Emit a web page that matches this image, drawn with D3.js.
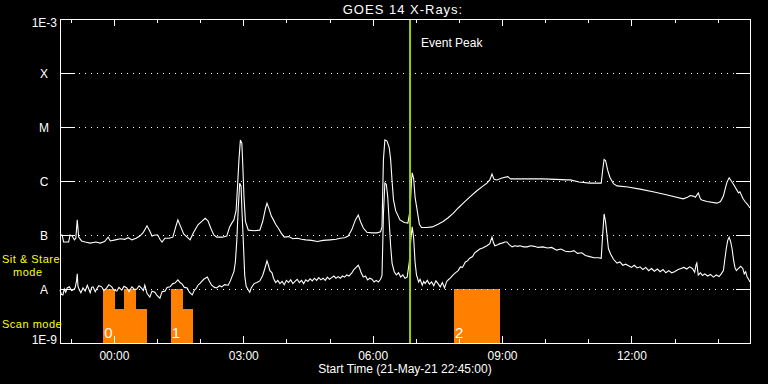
<!DOCTYPE html>
<html><head><meta charset="utf-8">
<script src="https://cdn.jsdelivr.net/npm/d3@7"></script>
<style>
body{margin:0;background:#000;}
svg{display:block;background:#000;}
text{font-family:"Liberation Sans",Arial,sans-serif;fill:#fff;}
</style>
</head><body>
<svg id="chart" width="768" height="384"></svg>
<script>
// ---------------- data ----------------
const chartTitle = "GOES 14 X-Rays:";
const startTimeISO = "2021-05-21T22:45:00Z";
const spanMinutes = 960;
const xAxisTitle = "Start Time (21-May-21 22:45:00)";
const eventPeakMinute = 487;
const eventPeakLabel = "Event Peak";

// flux classes: log10(W/m^2) and their labels
const classExponents = [-9, -8, -7, -6, -5, -4, -3];
const classLabels = ["1E-9", "A", "B", "C", "M", "X", "1E-3"];

// long channel (1-8 A): [minutes since start, log10 flux]
const longChannel = [[0,-7.0],[3,-7.0],[5,-7.13],[12,-7.13],[14,-7.0],[17,-7.02],[20,-7.09],[22,-7.06],[24,-6.72],[26,-7.04],[30,-7.11],[35,-7.13],[42,-7.15],[50,-7.13],[56,-7.15],[62,-7.12],[67,-7.04],[70,-7.11],[77,-7.09],[84,-7.07],[90,-7.08],[95,-7.05],[100,-7.09],[106,-7.06],[111,-7.02],[116,-6.95],[121,-6.83],[125,-6.93],[128,-7.02],[132,-7.0],[136,-7.0],[139,-7.08],[142,-7.13],[146,-7.06],[152,-7.06],[157,-7.04],[161,-6.85],[164,-6.72],[168,-6.85],[172,-6.98],[177,-7.04],[181,-7.09],[186,-6.95],[192,-6.81],[198,-6.74],[202,-6.69],[206,-6.74],[210,-6.88],[214,-7.0],[218,-7.04],[226,-7.04],[232,-7.02],[236,-6.85],[239,-6.78],[242,-6.72],[245,-6.55],[247,-6.1],[249,-5.6],[251,-5.24],[253,-5.3],[254,-5.6],[256,-6.3],[258,-6.75],[262,-6.91],[270,-6.92],[278,-6.91],[282,-6.75],[286,-6.5],[288,-6.41],[291,-6.52],[294,-6.65],[297,-6.72],[300,-6.8],[304,-6.88],[308,-6.97],[312,-7.04],[318,-7.03],[324,-7.07],[330,-7.06],[336,-7.08],[342,-7.09],[350,-7.1],[358,-7.12],[366,-7.1],[376,-7.09],[384,-7.08],[390,-7.06],[396,-7.05],[401,-7.02],[406,-6.9],[411,-6.72],[415,-6.63],[418,-6.75],[422,-6.87],[427,-6.95],[434,-6.96],[441,-6.96],[446,-6.94],[448,-6.85],[449,-6.2],[450,-5.6],[452,-5.24],[455,-5.26],[458,-5.38],[460,-5.6],[462,-6.0],[464,-6.35],[467,-6.55],[473,-6.72],[479,-6.77],[484,-6.78],[487,-6.55],[489,-6.0],[490,-5.85],[492,-5.95],[494,-6.3],[497,-6.55],[500,-6.8],[503,-6.86],[510,-6.86],[518,-6.85],[526,-6.8],[533,-6.75],[540,-6.68],[547,-6.6],[554,-6.5],[561,-6.41],[570,-6.3],[580,-6.18],[588,-6.1],[594,-6.04],[598,-5.98],[601,-5.87],[604,-5.97],[608,-5.98],[614,-5.95],[619,-5.93],[623,-5.92],[627,-5.96],[640,-5.96],[655,-5.96],[672,-5.96],[690,-5.97],[705,-5.98],[710,-5.98],[722,-6.02],[737,-6.04],[747,-6.04],[753,-6.04],[755,-5.8],[757,-5.6],[759,-5.62],[762,-5.8],[765,-5.93],[770,-6.05],[775,-6.09],[790,-6.11],[807,-6.15],[825,-6.2],[845,-6.26],[867,-6.33],[873,-6.3],[877,-6.27],[881,-6.28],[884,-6.3],[888,-6.22],[891,-6.33],[893,-6.35],[900,-6.38],[914,-6.41],[919,-6.38],[923,-6.28],[926,-6.12],[928,-6.02],[931,-5.94],[934,-6.0],[937,-6.06],[940,-6.13],[944,-6.22],[946,-6.2],[950,-6.32],[953,-6.38],[957,-6.44],[960,-6.5]];

// short channel (0.5-4 A): [minutes since start, log10 flux]
const shortChannel = [[0,-8.02],[2,-8.1],[4,-8.11],[6,-8.0],[8,-8.06],[10,-7.98],[13,-7.96],[16,-8.03],[18,-8.02],[21,-7.98],[23,-7.85],[24,-7.72],[25,-7.95],[27,-8.02],[29,-8.07],[32,-7.98],[35,-8.04],[38,-7.93],[40,-8.0],[42,-8.07],[44,-7.97],[46,-7.96],[49,-8.05],[51,-8.0],[54,-7.94],[58,-7.96],[61,-8.03],[65,-7.98],[68,-7.92],[72,-7.96],[75,-8.02],[79,-8.04],[82,-7.97],[86,-8.02],[89,-7.95],[93,-7.98],[96,-8.05],[100,-7.96],[104,-8.01],[107,-8.0],[110,-7.94],[113,-7.98],[116,-8.03],[118,-7.93],[121,-8.08],[125,-8.15],[128,-8.04],[132,-8.06],[135,-8.12],[139,-8.17],[142,-8.05],[146,-8.04],[149,-7.97],[153,-7.96],[157,-7.9],[160,-7.89],[164,-7.83],[167,-7.88],[170,-7.91],[173,-7.97],[177,-7.98],[180,-8.06],[184,-8.11],[187,-8.02],[189,-8.0],[192,-7.93],[195,-7.89],[200,-7.82],[205,-7.78],[208,-7.86],[211,-7.93],[215,-7.97],[218,-7.98],[222,-7.94],[225,-7.96],[229,-7.92],[234,-7.93],[237,-7.85],[239,-7.78],[242,-7.68],[244,-7.5],[246,-7.1],[248,-6.5],[250,-6.04],[252,-6.1],[253,-6.5],[255,-7.1],[257,-7.75],[259,-7.95],[262,-8.02],[264,-8.06],[266,-7.98],[270,-7.9],[274,-7.88],[278,-7.85],[282,-7.75],[285,-7.62],[288,-7.48],[290,-7.56],[292,-7.66],[295,-7.7],[297,-7.8],[300,-7.88],[303,-7.84],[306,-7.9],[309,-7.86],[312,-7.92],[315,-7.84],[318,-7.88],[321,-7.83],[324,-7.9],[327,-7.86],[330,-7.82],[333,-7.88],[336,-7.84],[339,-7.9],[342,-7.83],[345,-7.86],[348,-7.81],[351,-7.85],[354,-7.8],[357,-7.84],[360,-7.79],[363,-7.83],[366,-7.8],[369,-7.84],[372,-7.78],[375,-7.82],[378,-7.79],[381,-7.76],[384,-7.8],[387,-7.77],[390,-7.8],[393,-7.76],[396,-7.78],[399,-7.74],[402,-7.76],[406,-7.7],[409,-7.64],[412,-7.6],[415,-7.56],[417,-7.62],[419,-7.7],[422,-7.78],[425,-7.76],[428,-7.83],[431,-7.8],[434,-7.82],[437,-7.87],[440,-7.84],[443,-7.87],[446,-7.82],[448,-7.75],[449,-7.2],[450,-6.6],[452,-6.04],[454,-6.06],[456,-6.3],[458,-6.75],[460,-7.2],[462,-7.52],[465,-7.68],[468,-7.74],[471,-7.7],[474,-7.78],[477,-7.74],[480,-7.8],[483,-7.78],[486,-7.5],[488,-7.1],[490,-6.85],[492,-7.05],[494,-7.5],[496,-7.74],[499,-7.87],[501,-7.82],[504,-7.93],[506,-7.86],[508,-7.9],[511,-7.84],[514,-7.91],[517,-7.87],[520,-7.94],[523,-7.85],[526,-7.9],[529,-7.96],[532,-7.88],[535,-7.98],[538,-7.86],[541,-7.82],[543,-7.8],[547,-7.74],[550,-7.7],[554,-7.66],[557,-7.59],[560,-7.6],[564,-7.5],[567,-7.48],[570,-7.43],[574,-7.4],[577,-7.33],[580,-7.3],[584,-7.26],[588,-7.24],[594,-7.2],[598,-7.16],[601,-7.04],[603,-7.14],[605,-7.2],[609,-7.18],[612,-7.16],[615,-7.15],[619,-7.13],[622,-7.13],[625,-7.18],[629,-7.22],[633,-7.2],[637,-7.21],[640,-7.2],[645,-7.22],[650,-7.22],[655,-7.2],[660,-7.21],[665,-7.23],[672,-7.22],[678,-7.24],[684,-7.23],[691,-7.28],[697,-7.26],[703,-7.3],[710,-7.31],[715,-7.29],[720,-7.34],[726,-7.33],[731,-7.38],[737,-7.4],[743,-7.42],[749,-7.42],[753,-7.43],[755,-7.0],[757,-6.61],[759,-6.75],[761,-7.0],[763,-7.25],[766,-7.35],[770,-7.45],[775,-7.52],[779,-7.5],[783,-7.56],[787,-7.54],[791,-7.57],[795,-7.6],[799,-7.56],[803,-7.61],[807,-7.59],[811,-7.64],[815,-7.6],[819,-7.66],[823,-7.62],[827,-7.67],[831,-7.63],[835,-7.68],[839,-7.64],[843,-7.7],[847,-7.66],[851,-7.7],[855,-7.68],[860,-7.64],[864,-7.62],[868,-7.6],[872,-7.63],[876,-7.59],[880,-7.62],[883,-7.69],[885,-7.55],[886,-7.52],[888,-7.74],[891,-7.7],[894,-7.75],[897,-7.72],[901,-7.76],[905,-7.73],[909,-7.78],[913,-7.74],[917,-7.77],[920,-7.72],[923,-7.66],[925,-7.45],[927,-7.25],[929,-7.1],[931,-7.04],[933,-7.12],[935,-7.25],[937,-7.45],[939,-7.6],[941,-7.66],[944,-7.62],[947,-7.58],[950,-7.62],[952,-7.72],[954,-7.68],[956,-7.78],[958,-7.82],[960,-7.87]];

// observing-mode blocks: [start minute, end minute, top level (log10 scale)]
const scanBlocks = [[60,77,-8],[77,89,-8.37],[89,106,-8],[106,121,-8.37],[154,171,-8],[171,185,-8.37],[548,612,-8]];
const blockLabels = [[60,"0"],[154,"1"],[548,"2"]];
const modeLabels = ["Sit & Stare", "mode", "Scan mode"];

// ---------------- chart ----------------
const svg = d3.select("#chart");
const L = 60, R = 750, T = 19, B = 343;
const t0 = new Date(startTimeISO);
const toDate = m => new Date(t0.getTime() + m * 60000);

const x = d3.scaleUtc().domain([t0, toDate(spanMinutes)]).range([L, R]);
const y = d3.scaleLinear().domain([-9, -3]).range([B, T]);

// title
svg.append("text").attr("x", 403).attr("y", 14).attr("text-anchor", "middle")
  .style("font-size", "13px").style("letter-spacing", "1px").text(chartTitle);

// scan blocks
svg.append("g").selectAll("rect").data(scanBlocks).join("rect")
  .attr("x", d => x(toDate(d[0])))
  .attr("y", d => y(d[2]))
  .attr("width", d => x(toDate(d[1])) - x(toDate(d[0])))
  .attr("height", d => y(-9) - y(d[2]))
  .attr("fill", "#ff8000")
  .attr("shape-rendering", "crispEdges");

svg.append("g").selectAll("text").data(blockLabels).join("text")
  .attr("x", d => x(toDate(d[0])) + 1)
  .attr("y", 338)
  .style("font-size", "15px")
  .text(d => d[1]);

// grid lines (dotted)
svg.append("g").selectAll("line").data(classExponents.slice(1, -1)).join("line")
  .attr("x1", L + 19).attr("x2", R - 14)
  .attr("y1", d => Math.round(y(d)) + 0.5).attr("y2", d => Math.round(y(d)) + 0.5)
  .attr("stroke", "#fff").attr("stroke-dasharray", "1,5")
  .attr("shape-rendering", "crispEdges");

// axes
function styleAxis(g) {
  g.select(".domain").remove();
  g.selectAll("line").attr("stroke", "#fff").attr("shape-rendering", "crispEdges");
  g.selectAll("text").attr("fill", "#fff")
    .style("font-family", '"Liberation Sans",Arial,sans-serif').style("font-size", "12px");
}
const hourTicks = d3.utcHour.every(1);
const majorTicks = d3.utcHour.every(3);

svg.append("g").attr("transform", `translate(0,${B})`)
  .call(d3.axisBottom(x).ticks(hourTicks).tickSize(-4).tickFormat(""))
  .call(styleAxis);
svg.append("g").attr("transform", `translate(0,${B})`)
  .call(d3.axisBottom(x).ticks(majorTicks).tickSize(-7).tickPadding(8).tickFormat(d3.utcFormat("%H:%M")))
  .call(styleAxis);
svg.append("g").attr("transform", `translate(0,${T})`)
  .call(d3.axisTop(x).ticks(hourTicks).tickSize(-4).tickFormat(""))
  .call(styleAxis);
svg.append("g").attr("transform", `translate(0,${T})`)
  .call(d3.axisTop(x).ticks(majorTicks).tickSize(-7).tickFormat(""))
  .call(styleAxis);
svg.append("g").attr("transform", `translate(${L},0)`)
  .call(d3.axisLeft(y).tickValues(classExponents).tickSize(-15).tickFormat(""))
  .call(styleAxis);
svg.append("g").attr("transform", `translate(${R},0)`)
  .call(d3.axisRight(y).tickValues(classExponents).tickSize(-14).tickFormat(""))
  .call(styleAxis);

// frame
svg.append("rect").attr("x", L + 0.5).attr("y", T + 0.5).attr("width", R - L).attr("height", B - T)
  .attr("fill", "none").attr("stroke", "#fff").attr("shape-rendering", "crispEdges");

// y labels
svg.append("g").selectAll("text").data(classExponents).join("text")
  .attr("x", (d, i) => (i === 0 || i === classExponents.length - 1) ? 57 : 44)
  .attr("y", (d, i) => y(d) + (i === 0 ? -3 : (i === classExponents.length - 1 ? 4 : 1)))
  .attr("text-anchor", (d, i) => (i === 0 || i === classExponents.length - 1) ? "end" : "middle")
  .attr("dominant-baseline", "central")
  .style("font-size", "12px")
  .text((d, i) => classLabels[i]);

// mode labels
svg.append("text").attr("x", 2).attr("y", 263).style("font-size", "11px").style("letter-spacing", "0.5px").style("fill", "#ffff00").text(modeLabels[0]);
svg.append("text").attr("x", 13).attr("y", 276).style("font-size", "11px").style("letter-spacing", "0.5px").style("fill", "#ffff00").text(modeLabels[1]);
svg.append("text").attr("x", 2).attr("y", 328).style("font-size", "11px").style("letter-spacing", "0.5px").style("fill", "#ffff00").text(modeLabels[2]);

// x title
svg.append("text").attr("x", 405).attr("y", 373).attr("text-anchor", "middle")
  .style("font-size", "12px").text(xAxisTitle);

// data lines
const line = d3.line().x(d => x(toDate(d[0]))).y(d => y(d[1]));
[longChannel, shortChannel].forEach(series => {
  svg.append("path").datum(series).attr("d", line)
    .attr("fill", "none").attr("stroke", "#fff").attr("stroke-width", 1.1)
    .attr("stroke-linejoin", "miter");
});

// event peak
const ex = x(toDate(eventPeakMinute));
svg.append("line").attr("x1", ex).attr("x2", ex).attr("y1", T + 1).attr("y2", B)
  .attr("stroke", "#a0cc00").attr("stroke-width", 2);
svg.append("text").attr("x", ex + 11).attr("y", 47).style("font-size", "12px").text(eventPeakLabel);
</script>
</body></html>
